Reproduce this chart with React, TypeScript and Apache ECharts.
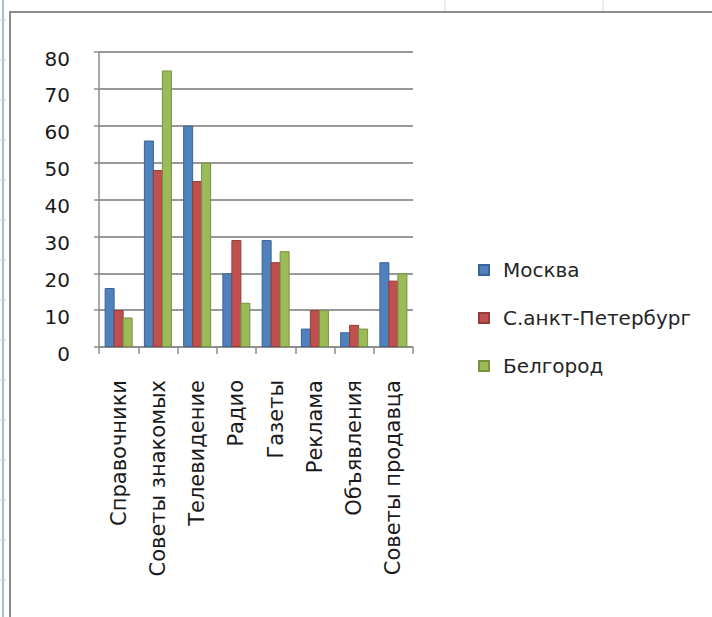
import React, { useEffect, useRef } from "react";
import * as echarts from "echarts";

const categories = [
  "Справочники",
  "Советы знакомых",
  "Телевидение",
  "Радио",
  "Газеты",
  "Реклама",
  "Объявления",
  "Советы продавца",
];
const seriesNames = ["Москва", "С.анкт-Петербург", "Белгород"];
const moscow = [16, 56, 60, 20, 29, 5, 4, 23];
const spb = [10, 48, 45, 29, 23, 10, 6, 18];
const belgorod = [8, 75, 50, 12, 26, 10, 5, 20];
const colors = ["#4F81BD", "#C0504D", "#9BBB59"];
const borders = ["#3A6496", "#963C3A", "#77913F"];

export default function App() {
  const ref = useRef<HTMLDivElement>(null);
  useEffect(() => {
    document.body.style.margin = "0";
    const chart = echarts.init(ref.current!, null, { renderer: "svg" });
    const font = "DejaVu Sans";
    const data = [moscow, spb, belgorod];
    const rowLines = [];
    for (let i = 0; i < 16; i++) {
      rowLines.push({
        type: "line",
        shape: { x1: 0, y1: 20 + i * 40, x2: 6, y2: 20 + i * 40 },
        style: { stroke: "#c8d0dc", lineWidth: 1 },
        silent: true,
      });
    }
    chart.setOption({
      animation: false,
      backgroundColor: "#ffffff",
      textStyle: { fontFamily: font },
      graphic: [
        {
          type: "line",
          shape: { x1: 3, y1: 0, x2: 3, y2: 617 },
          style: { stroke: "#a9bcd8", lineWidth: 2 },
        },
        ...rowLines,
        {
          type: "line",
          shape: { x1: 445, y1: 0, x2: 445, y2: 12 },
          style: { stroke: "#d0d7e5", lineWidth: 1 },
        },
        {
          type: "line",
          shape: { x1: 603, y1: 0, x2: 603, y2: 12 },
          style: { stroke: "#d0d7e5", lineWidth: 1 },
        },
        {
          type: "polyline",
          shape: { points: [[10, 617], [10, 12], [712, 12]] },
          style: { stroke: "#8c8c8c", lineWidth: 2, fill: "none" },
        },
      ],
      grid: { left: 99, right: 299, top: 52, bottom: 270, containLabel: false },
      legend: {
        orient: "vertical",
        left: 473,
        top: 255,
        itemWidth: 10,
        itemHeight: 10,
        itemGap: 28,
        icon: "rect",
        textStyle: {
          fontFamily: font,
          fontSize: 20,
          color: "#262626",
          padding: [0, 0, 0, 9],
        },
        data: seriesNames,
      },
      xAxis: {
        type: "category",
        data: categories,
        axisLine: { lineStyle: { color: "#8c8c8c", width: 1.5 } },
        axisTick: { show: true, length: 7, lineStyle: { color: "#8c8c8c", width: 1.5 } },
        axisLabel: {
          rotate: 90,
          interval: 0,
          margin: 33,
          fontFamily: font,
          fontSize: 21,
          color: "#1a1a1a",
        },
      },
      yAxis: {
        type: "value",
        min: 0,
        max: 80,
        interval: 10,
        axisLine: { show: true, lineStyle: { color: "#8c8c8c", width: 1.5 } },
        axisTick: { show: true, length: 5, lineStyle: { color: "#8c8c8c", width: 1.5 } },
        splitLine: { lineStyle: { color: "#999999", width: 2 } },
        axisLabel: {
          margin: 29,
          fontFamily: font,
          fontSize: 20,
          color: "#1a1a1a",
          verticalAlign: "top",
          lineHeight: 13,
        },
      },
      series: seriesNames.map((name, i) => ({
        name,
        type: "bar",
        data: data[i],
        barWidth: 10,
        barGap: "-10%",
        itemStyle: { color: colors[i], borderColor: borders[i], borderWidth: 1 },
      })),
    });
    return () => chart.dispose();
  }, []);
  return <div ref={ref} style={{ width: 712, height: 617 }} />;
}
